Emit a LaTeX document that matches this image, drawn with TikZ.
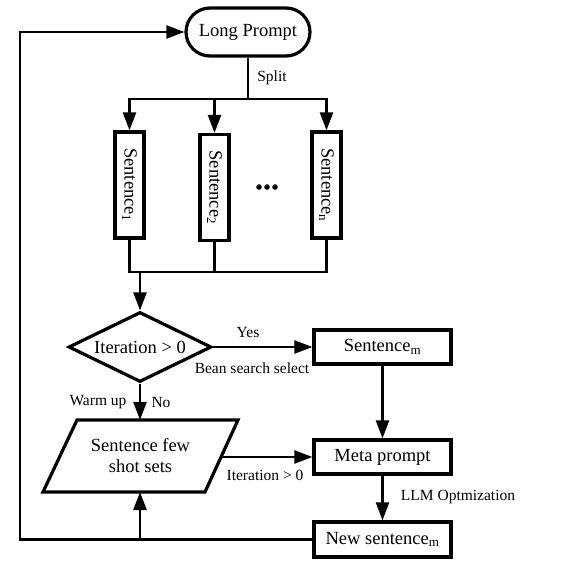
\documentclass[tikz,border=0pt]{standalone}
\usepackage{fontspec}
\setmainfont{Liberation Serif}
\usetikzlibrary{shapes.geometric,shapes.misc,arrows.meta}
\begin{document}
\begin{tikzpicture}[x=1pt,y=-1pt,
  line width=2.3pt,
  every node/.style={inner sep=0pt},
  mainfont/.style={font=\fontsize{18.5}{21}\selectfont},
  lbl/.style={font=\fontsize{15.5}{18}\selectfont},
  nb/.style={draw, line width=3.2pt},
  box/.style={nb, rectangle, mainfont, minimum width=137pt, minimum height=34pt},
  vbox/.style={nb, rectangle, mainfont, rotate=-90, minimum width=106pt, minimum height=29pt},
  arr/.style={-{Triangle[length=18pt,width=13pt]}}
]
\useasboundingbox (0,0) rectangle (562,572);

\node[nb, rounded rectangle, mainfont, minimum width=124pt, minimum height=48pt] (lp) at (248,32) {Long Prompt};
\node[vbox] (s1) at (129.5,185) {Sentence\textsubscript{1}};
\node[vbox] (s2) at (214.5,187.5) {Sentence\textsubscript{2}};
\node[vbox] (sn) at (326.5,185) {Sentence\textsubscript{n}};
\fill (259,187) circle (2.8) (267,187) circle (2.8) (275,187) circle (2.8);

\node[nb, diamond, aspect=2, mainfont, minimum width=143pt, minimum height=70pt] (dia) at (140,347) {Iteration > 0};
\node[box] (sm) at (382.5,347) {Sentence\textsubscript{m}};
\node[box] (mp) at (382.5,457) {Meta prompt};
\node[box, minimum height=35pt] (ns) at (382.5,539.5) {New sentence\textsubscript{m}};

% parallelogram drawn from named corners
\coordinate (ptl) at (77,420);
\coordinate (ptr) at (238,420);
\coordinate (pbr) at (205,492);
\coordinate (pbl) at (43,492);
\draw[line width=3.2pt, line join=miter] (ptl) -- (ptr) -- (pbr) -- (pbl) -- cycle;
\node[mainfont, align=center] (para) at (140.5,456) {Sentence few\\shot sets};
\coordinate (ptop) at (140,420);
\coordinate (pbot) at (140,492);
\coordinate (pe) at (221.5,457);

\coordinate (bus) at (248,99);
\coordinate (bot) at (140,272);
\coordinate (fb) at (20,539.5);

\draw (lp) -- (bus);
\draw[arr] (bus) -| (s1);
\draw[arr] (bus) -| (sn);
\draw[arr] (s2 |- bus) -- (s2);
\node[lbl] (split) at (272,78) {Split};

\draw (s1) |- (bot) -| (sn);
\draw (s2) -- (s2 |- bot);
\draw[arr] (bot) -- (dia);

\draw[arr] (dia) -- (sm);
\node[lbl] (yes) at (248,332) {Yes};
\node[lbl] (bean) at (252,368) {Bean search select};

\draw[arr] (dia) -- (ptop);
\node[lbl] (warm) at (98,402) {Warm up};
\node[lbl] (no) at (161,402) {No};

\draw[arr] (sm) -- (mp);
\draw[arr] (pe) -- (mp.west |- pe);
\node[lbl] (it) at (265,475) {Iteration > 0};

\draw[arr] (mp) -- (ns);
\node[lbl] (llm) at (458,497) {LLM Optmization};

\draw[arr] (ns.west) -- (fb) |- (lp.west);
\draw[arr] (pbot |- fb) -- (pbot);
\end{tikzpicture}
\end{document}
